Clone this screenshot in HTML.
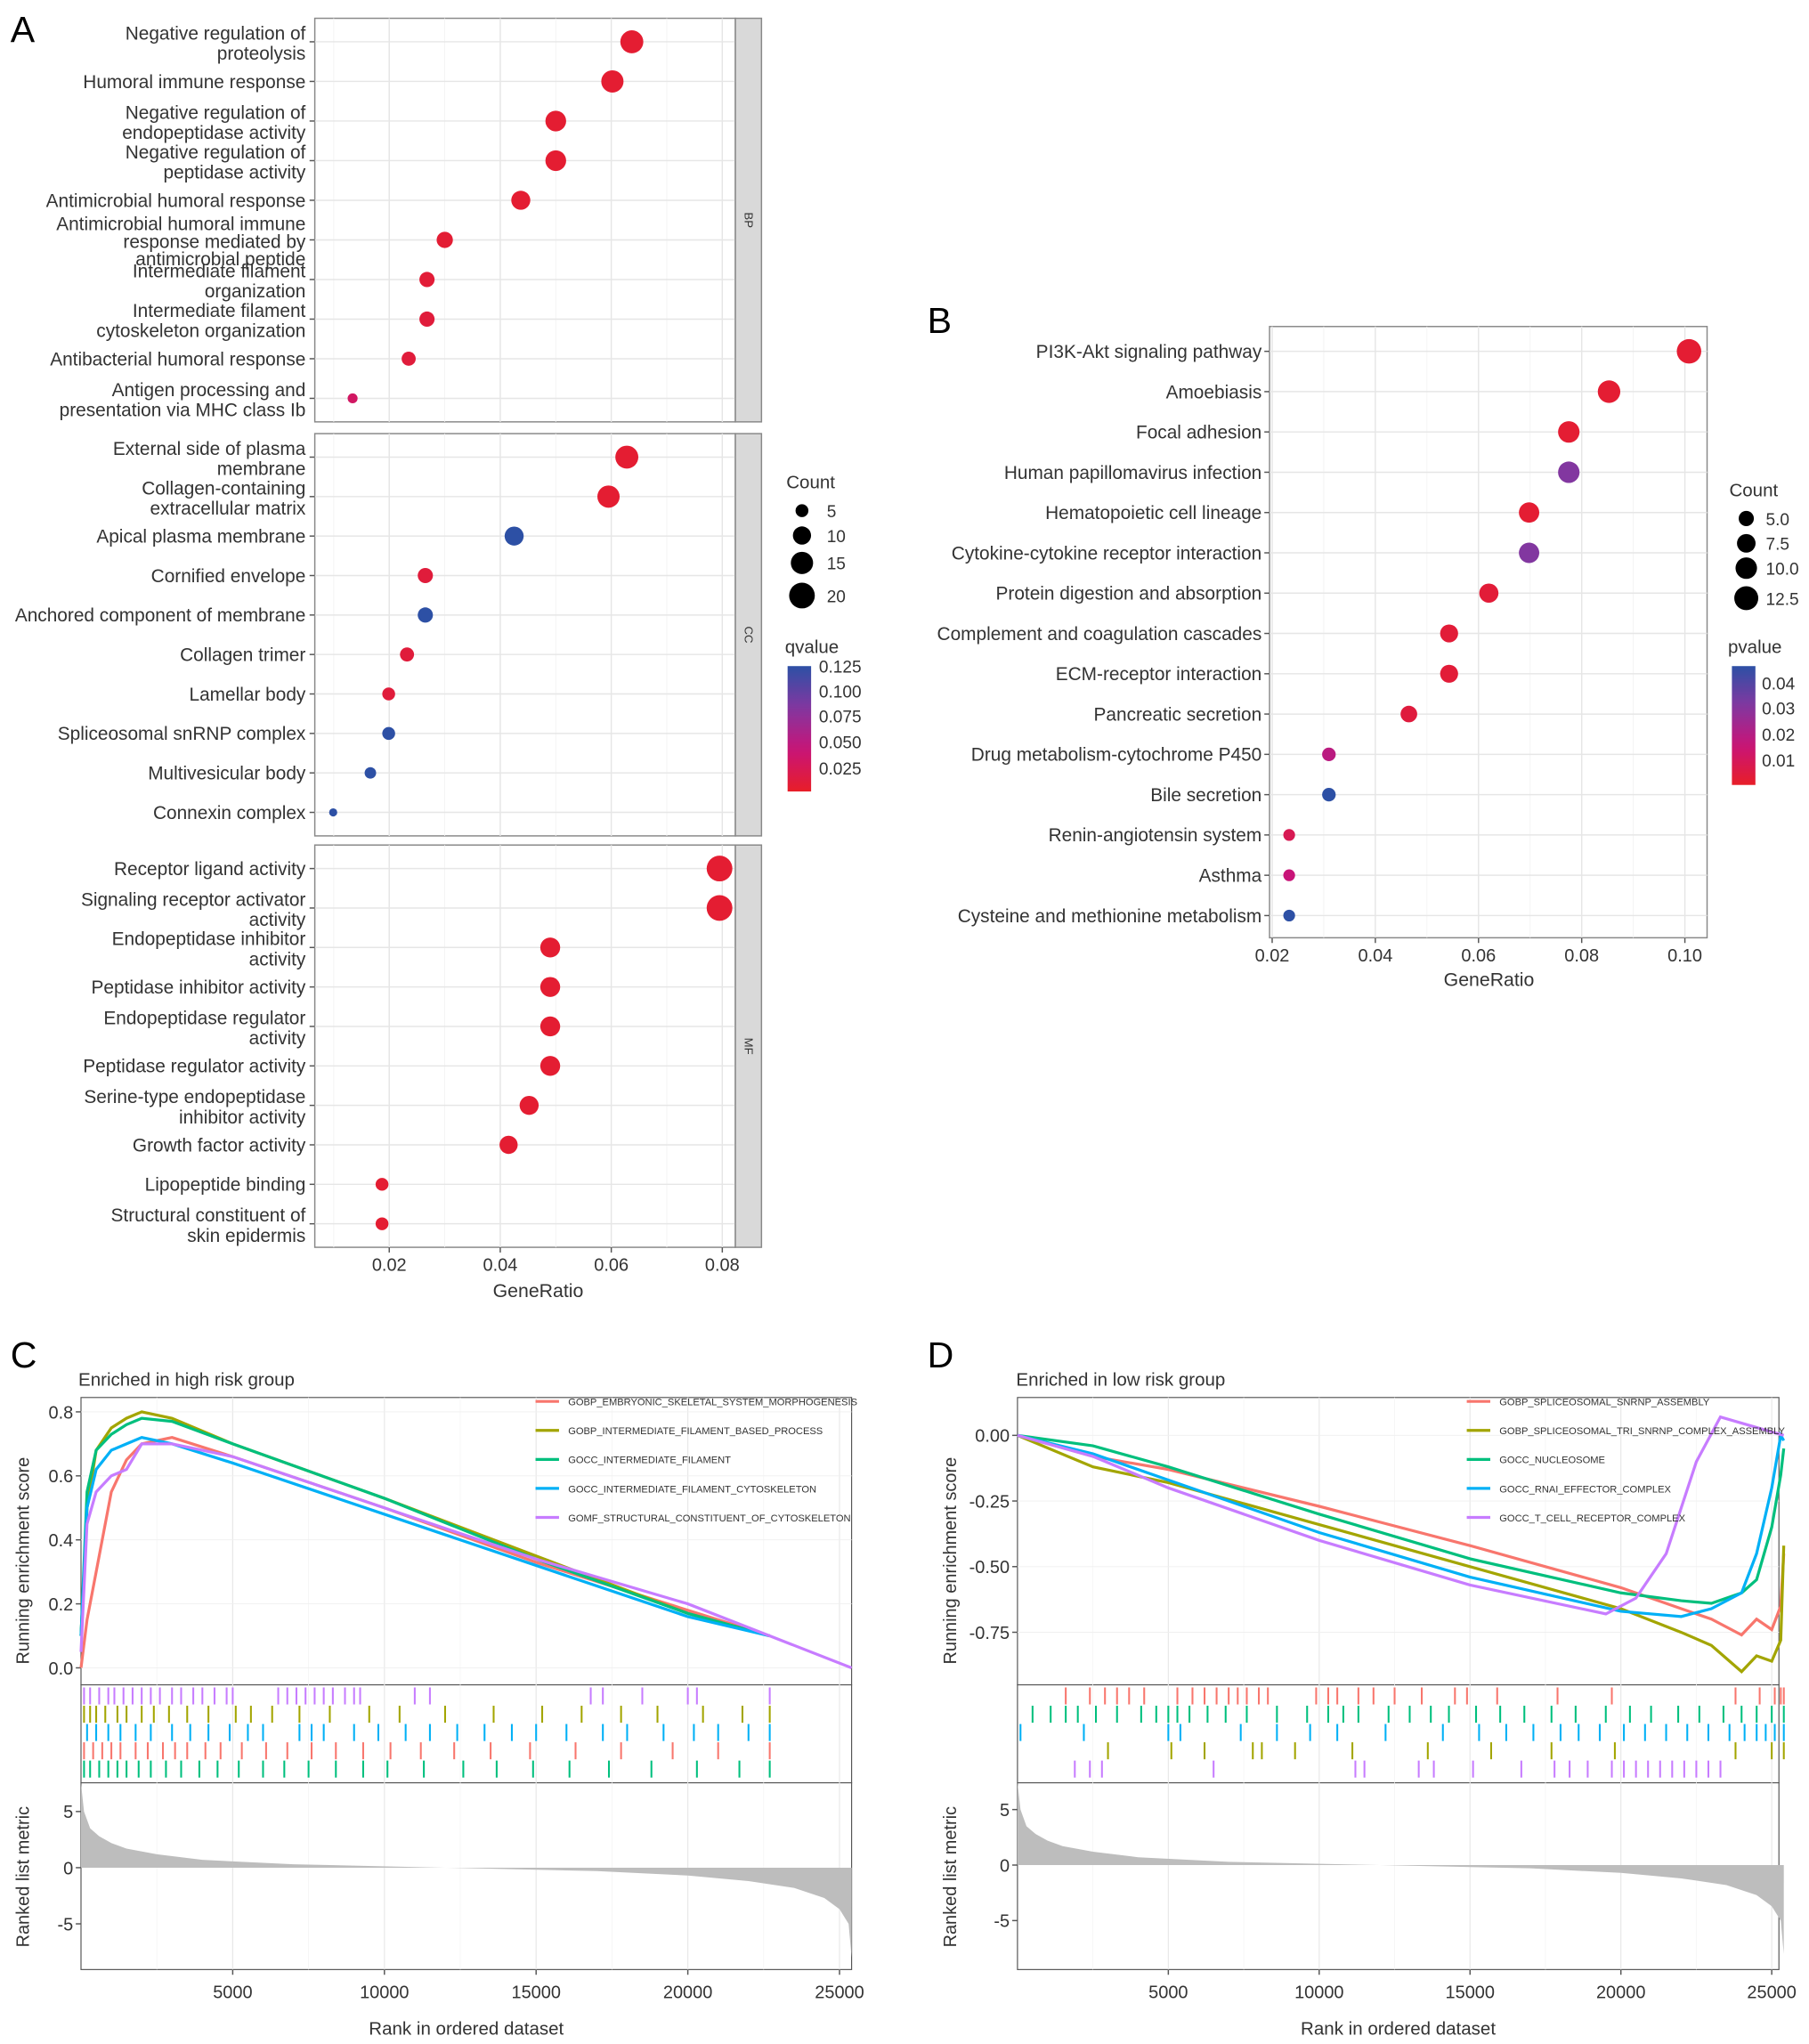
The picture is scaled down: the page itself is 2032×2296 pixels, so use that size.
<!DOCTYPE html>
<html><head><meta charset="utf-8"><style>
html,body{margin:0;padding:0;background:#fff}
svg{display:block}
text{font-family:"Liberation Sans",Arial,sans-serif;fill:#333}
</style></head><body>
<svg id="fig" width="2032" height="2296" viewBox="0 0 1385 1565" xmlns="http://www.w3.org/2000/svg"></svg>
<script>
// ---------- Panel A data ----------
const aBPLabels=[["Negative regulation of","proteolysis"],["Humoral immune response"],["Negative regulation of","endopeptidase activity"],["Negative regulation of","peptidase activity"],["Antimicrobial humoral response"],["Antimicrobial humoral immune","response mediated by","antimicrobial peptide"],["Intermediate filament","organization"],["Intermediate filament","cytoskeleton organization"],["Antibacterial humoral response"],["Antigen processing and","presentation via MHC class Ib"]];
const aBPRatio=[0.0637,0.0602,0.050,0.050,0.0437,0.030,0.0268,0.0268,0.0235,0.0134];
const aBPCount=[16,15,13,13,11,8,7,7,6,3];
const aBPQ=[0.005,0.005,0.005,0.005,0.005,0.006,0.008,0.01,0.01,0.03];
const aCCLabels=[["External side of plasma","membrane"],["Collagen-containing","extracellular matrix"],["Apical plasma membrane"],["Cornified envelope"],["Anchored component of membrane"],["Collagen trimer"],["Lamellar body"],["Spliceosomal snRNP complex"],["Multivesicular body"],["Connexin complex"]];
const aCCRatio=[0.0628,0.0595,0.0425,0.0265,0.0265,0.0232,0.0199,0.0199,0.0166,0.0099];
const aCCCount=[16,15,11,7,7,6,5,5,4,2];
const aCCQ=[0.005,0.005,0.125,0.01,0.125,0.01,0.01,0.125,0.125,0.125];
const aMFLabels=[["Receptor ligand activity"],["Signaling receptor activator","activity"],["Endopeptidase inhibitor","activity"],["Peptidase inhibitor activity"],["Endopeptidase regulator","activity"],["Peptidase regulator activity"],["Serine-type endopeptidase","inhibitor activity"],["Growth factor activity"],["Lipopeptide binding"],["Structural constituent of","skin epidermis"]];
const aMFRatio=[0.0795,0.0795,0.049,0.049,0.049,0.049,0.0452,0.0415,0.0187,0.0187];
const aMFCount=[20,20,12,12,12,12,11,10,5,5];
const aMFQ=[0.005,0.005,0.005,0.005,0.005,0.005,0.005,0.005,0.005,0.005];
const aTicks=[0.02,0.04,0.06,0.08];
// ---------- Panel B data ----------
const bLabels=["PI3K-Akt signaling pathway","Amoebiasis","Focal adhesion","Human papillomavirus infection","Hematopoietic cell lineage","Cytokine-cytokine receptor interaction","Protein digestion and absorption","Complement and coagulation cascades","ECM-receptor interaction","Pancreatic secretion","Drug metabolism-cytochrome P450","Bile secretion","Renin-angiotensin system","Asthma","Cysteine and methionine metabolism"];
const bRatio=[0.1008,0.0853,0.0775,0.0775,0.0698,0.0698,0.062,0.0543,0.0543,0.0465,0.031,0.031,0.0233,0.0233,0.0233];
const bCount=[13,11,10,10,9,9,8,7,7,6,4,4,3,3,3];
const bP=[0.002,0.002,0.002,0.03,0.002,0.03,0.003,0.003,0.003,0.004,0.018,0.045,0.008,0.015,0.045];
const bTicks=[0.02,0.04,0.06,0.08,0.10];
// ---------- Panel C data ----------
const cNames=["GOBP_EMBRYONIC_SKELETAL_SYSTEM_MORPHOGENESIS","GOBP_INTERMEDIATE_FILAMENT_BASED_PROCESS","GOCC_INTERMEDIATE_FILAMENT","GOCC_INTERMEDIATE_FILAMENT_CYTOSKELETON","GOMF_STRUCTURAL_CONSTITUENT_OF_CYTOSKELETON"];
const cRanksA=[0,200,500,1000,1500,2000,3000,5000,10000,15000,20000,22700];
const cRedScore=[0,0.15,0.3,0.55,0.65,0.7,0.72,0.66,0.5,0.33,0.18,0.1];
const cOliveScore=[0.1,0.5,0.68,0.75,0.78,0.8,0.78,0.7,0.53,0.35,0.17,0.1];
const cGreenScore=[0.1,0.55,0.68,0.73,0.76,0.78,0.77,0.7,0.53,0.34,0.17,0.1];
const cBlueScore=[0.1,0.5,0.62,0.68,0.7,0.72,0.7,0.64,0.48,0.32,0.16,0.1];
const cRanksP=[0,200,500,1000,1500,2000,3000,5000,10000,15000,20000,25400];
const cPurpleScore=[0.05,0.45,0.55,0.6,0.62,0.7,0.7,0.66,0.5,0.34,0.2,0];
const cHitsPurple=[100,300,600,900,1100,1400,1700,2000,2300,2600,3000,3300,3700,4000,4400,4800,5000,6500,6800,7100,7400,7700,8000,8300,8700,9000,9200,11000,11500,16800,17200,18500,20000,20300,22700];
const cHitsOlive=[100,300,500,800,1200,1500,2000,2400,2900,3500,4200,5100,5600,6300,7200,8200,9500,10500,12000,13600,15200,16500,17800,19000,20500,21800,22700];
const cHitsBlue=[200,500,900,1300,1800,2300,3000,3600,4200,4900,5500,6000,7200,7600,8000,9000,9800,10700,11500,12400,13300,14200,15000,16000,17200,18000,19200,20200,21000,22000,22700];
const cHitsRed=[100,400,700,1000,1300,1800,2200,2700,3100,3500,4100,4600,5300,6100,6800,7600,8400,9300,10200,11200,12300,13500,14800,16300,17800,19500,21000,22700];
const cHitsGreen=[100,300,600,900,1200,1500,1900,2300,2800,3300,3900,4500,5200,6000,6700,7500,8400,9300,10100,11300,12600,13700,14900,16100,17400,18800,20300,21700,22700];
// ---------- Panel D data ----------
const dNames=["GOBP_SPLICEOSOMAL_SNRNP_ASSEMBLY","GOBP_SPLICEOSOMAL_TRI_SNRNP_COMPLEX_ASSEMBLY","GOCC_NUCLEOSOME","GOCC_RNAI_EFFECTOR_COMPLEX","GOCC_T_CELL_RECEPTOR_COMPLEX"];
const dRanks=[0,2500,5000,10000,15000,20000,22000,23000,24000,24500,25000,25300,25400];
const dRedScore=[0,-0.08,-0.13,-0.27,-0.42,-0.58,-0.66,-0.7,-0.76,-0.7,-0.74,-0.65,-0.45];
const dOliveScore=[0,-0.12,-0.18,-0.34,-0.5,-0.66,-0.75,-0.8,-0.9,-0.84,-0.86,-0.78,-0.42];
const dGreenScore=[0,-0.04,-0.12,-0.3,-0.47,-0.6,-0.63,-0.64,-0.6,-0.55,-0.35,-0.15,-0.05];
const dBlueScore=[0,-0.07,-0.17,-0.37,-0.54,-0.67,-0.69,-0.66,-0.6,-0.45,-0.2,0,-0.02];
const dRanksP=[0,2500,5000,10000,15000,19500,20500,21500,22500,23300,25400];
const dPurpleScore=[0,-0.08,-0.2,-0.4,-0.57,-0.68,-0.62,-0.45,-0.1,0.07,0];
const dHitsRed=[1600,2400,2900,3300,3700,4200,5300,5800,6200,6600,7000,7300,7600,8000,8300,9900,10300,10600,11300,11800,12500,13400,14500,14900,15900,17900,19700,23800,24600,25100,25300,25400];
const dHitsGreen=[500,1100,1600,2000,2600,3300,4100,4600,5000,5300,5700,6300,6900,7600,8600,9600,10300,10800,11300,12300,13000,13700,14300,15200,16000,16800,17700,18500,19500,20300,21000,21900,22600,23400,24000,24500,25000,25400];
const dHitsBlue=[100,2200,5000,5400,7400,8600,9700,10600,12200,14100,15300,16200,17100,18000,18600,19300,20100,20800,21500,22200,22900,23600,24100,24500,24800,25100,25400];
const dHitsOlive=[3000,5100,6200,7800,8100,9200,11100,13600,15700,17700,19800,23800,25000,25400];
const dHitsPurple=[1900,2400,2800,6500,11200,11500,13300,13800,15100,16700,17800,18300,18900,19700,20100,20500,20900,21300,21700,22100,22500,22900,23300];
// ranked list metric (shared shape)
const metRanks=[0,100,300,600,1000,1500,2500,4000,7000,12000,17000,20000,22000,23500,24500,25000,25300,25400];
const metValues=[7.5,5,3.5,2.8,2.2,1.7,1.2,0.7,0.3,0,-0.3,-0.7,-1.2,-1.8,-2.7,-3.7,-5,-8];
const gsColors=["#f8766d","#a3a500","#00bf7d","#00b0f6","#c77cff"];

const NS="http://www.w3.org/2000/svg";
const svg=document.getElementById('fig');
function el(tag,attrs,parent){const e=document.createElementNS(NS,tag);for(const k in attrs)e.setAttribute(k,attrs[k]);(parent||svg).appendChild(e);return e;}
function txt(x,y,s,size,anchor,parent){const t=el('text',{x:x,y:y,'font-size':size,'text-anchor':anchor||'start'},parent);t.textContent=s;return t;}
function lerp(a,b,t){return a+(b-a)*t;}
function colorScale(v,max){let t=Math.max(0,Math.min(1,v/max));
 const stops=[[232,30,40],[200,20,120],[130,55,160],[45,80,165]];
 const p=t*3,i=Math.min(2,Math.floor(p)),f=p-i;const a=stops[i],b=stops[i+1];
 return `rgb(${Math.round(lerp(a[0],b[0],f))},${Math.round(lerp(a[1],b[1],f))},${Math.round(lerp(a[2],b[2],f))})`;}

[["A",8,32],["B",710,255],["C",8,1047],["D",710,1047]].forEach(p=>{const t=txt(p[1],p[2],p[0],28);t.setAttribute('style','fill:#000');});

// ---------- Panel A ----------
const ax=v=>298+(v-0.02)*4250;
const aG=el('g',{});

const facets=[["BP",14,323,aBPLabels,aBPRatio,aBPCount,aBPQ],["CC",332,640,aCCLabels,aCCRatio,aCCCount,aCCQ],["MF",647,955,aMFLabels,aMFRatio,aMFCount,aMFQ]];
facets.forEach(f=>{
 const [nm,y0,y1,labels,ratio,count,q]=f;
 const g=el('g',{},aG);
 
 el('rect',{x:241,y:y0,width:322,height:y1-y0,fill:'#fff',stroke:'#888','stroke-width':1},g);
 [0.01,0.03,0.05,0.07].forEach(v=>el('line',{x1:ax(v),x2:ax(v),y1:y0,y2:y1,stroke:'#f2f2f2','stroke-width':0.6},g));
 aTicks.forEach(v=>el('line',{x1:ax(v),x2:ax(v),y1:y0,y2:y1,stroke:'#e6e6e6','stroke-width':1},g));
 labels.forEach((lab,i)=>{
  const yy=y0+18+i*(y1-y0-36)/(labels.length-1);
  el('line',{x1:241,x2:563,y1:yy,y2:yy,stroke:'#e6e6e6','stroke-width':1},g);
  el('line',{x1:237,x2:241,y1:yy,y2:yy,stroke:'#555','stroke-width':1},g);
  const n=lab.length, lh=(n>2?13.5:15.5);
  lab.forEach((s,j)=>{const t=txt(234,yy+5+(j-(n-1)/2)*lh+(n>1?1:0),s,14.2,'end',g);});
  const c=el('circle',{cx:ax(ratio[i]),cy:yy,r:2.2*Math.sqrt(count[i]),fill:colorScale(q[i],0.125)},g);
  
 });
 el('rect',{x:563,y:y0,width:20,height:y1-y0,fill:'#d9d9d9',stroke:'#888','stroke-width':1},g);
 const st=txt(0,0,nm,9,'middle',g);st.setAttribute('transform',`translate(570,${(y0+y1)/2}) rotate(90)`);
 
});
aTicks.forEach(v=>{el('line',{x1:ax(v),x2:ax(v),y1:955,y2:959,stroke:'#555'},aG);const t=txt(ax(v),973,v.toFixed(2),13.6,'middle',aG);});
{const t=txt(412,993,"GeneRatio",14.5,'middle',aG);}
{const lg=el('g',{},aG);
 txt(602,374,"Count",14,'start',lg);
 [[5,391],[10,410],[15,431],[20,456]].forEach(p=>{el('circle',{cx:614,cy:p[1],r:2.2*Math.sqrt(p[0]),fill:'#000'},lg);txt(633,p[1]+5,String(p[0]),13,'start',lg);});
 txt(601,500,"qvalue",14,'start',lg);
 const gr=el('linearGradient',{id:'gq',x1:0,y1:1,x2:0,y2:0},lg);
 for(let i=0;i<=10;i++)el('stop',{offset:i/10,'stop-color':colorScale(i/10*0.125,0.125)},gr);
 el('rect',{x:603,y:510,width:18,height:96,fill:'url(#gq)'},lg);
 [["0.125",510],["0.100",529],["0.075",548],["0.050",568],["0.025",588]].forEach(p=>txt(627,p[1]+5,p[0],13,'start',lg));
}

// ---------- Panel B ----------
const bx=v=>974+(v-0.02)*3950;
const bG=el('g',{});
el('rect',{x:972,y:250,width:335,height:468,fill:'#fff',stroke:'#888','stroke-width':1},bG);
[0.03,0.05,0.07,0.09].forEach(v=>el('line',{x1:bx(v),x2:bx(v),y1:250,y2:718,stroke:'#f2f2f2','stroke-width':0.6},bG));
bTicks.forEach(v=>el('line',{x1:bx(v),x2:bx(v),y1:250,y2:718,stroke:'#e6e6e6'},bG));
bLabels.forEach((s,i)=>{const y=269+i*(701-269)/14;
 el('line',{x1:972,x2:1307,y1:y,y2:y,stroke:'#e6e6e6'},bG);
 el('line',{x1:968,x2:972,y1:y,y2:y,stroke:'#555'},bG);
 const t=txt(966,y+5,s,14.2,'end',bG);
 const c=el('circle',{cx:bx(bRatio[i]),cy:y,r:2.6*Math.sqrt(bCount[i]),fill:colorScale(bP[i],0.045)},bG);
 });
bTicks.forEach(v=>{el('line',{x1:bx(v),x2:bx(v),y1:718,y2:722,stroke:'#555'},bG);const t=txt(bx(v),736,v.toFixed(2),13.6,'middle',bG);});
{const t=txt(1140,755,"GeneRatio",14.5,'middle',bG);}
{const lg=el('g',{},bG);
 txt(1324,380,"Count",14,'start',lg);
 [["5.0",5,397],["7.5",7.5,416],["10.0",10,435],["12.5",12.5,458]].forEach(p=>{el('circle',{cx:1337,cy:p[2],r:2.6*Math.sqrt(p[1]),fill:'#000'},lg);txt(1352,p[2]+5,p[0],13,'start',lg);});
 txt(1323,500,"pvalue",14,'start',lg);
 const gr=el('linearGradient',{id:'gp',x1:0,y1:1,x2:0,y2:0},lg);
 for(let i=0;i<=10;i++)el('stop',{offset:i/10,'stop-color':colorScale(i/10*0.045,0.045)},gr);
 el('rect',{x:1326,y:510,width:18,height:91,fill:'url(#gp)'},lg);
 [["0.04",523],["0.03",542],["0.02",562],["0.01",582]].forEach(p=>txt(1349,p[1]+5,p[0],13,'start',lg));
}

// ---------- GSEA panels ----------
function gsea(cfg){
 const g=el('g',{});
 const X=r=>cfg.x0+r*cfg.xs;
 const Y=s=>cfg.yZero-s*cfg.ys;
 const M=m=>cfg.mZero-m*cfg.ms;
 const L=cfg.left,R=cfg.right;
 el('rect',{x:L,y:1070,width:R-L,height:220,fill:'#fff',stroke:'#555','stroke-width':0.8},g);
 el('rect',{x:L,y:1290,width:R-L,height:75,fill:'#fff',stroke:'#555','stroke-width':0.8},g);
 el('rect',{x:L,y:1365,width:R-L,height:143,fill:'#fff',stroke:'#555','stroke-width':0.8},g);
 for(let r=2500;r<=25000;r+=2500){[[1070,1290],[1290,1365],[1365,1508]].forEach(b=>el('line',{x1:X(r),x2:X(r),y1:b[0],y2:b[1],stroke:r%5000?'#f4f4f4':'#e8e8e8','stroke-width':r%5000?0.5:0.8},g));}
 cfg.yTicks.forEach(t=>{el('line',{x1:L,x2:R,y1:Y(t[0]),y2:Y(t[0]),stroke:'#efefef','stroke-width':0.6},g);el('line',{x1:L-4,x2:L,y1:Y(t[0]),y2:Y(t[0]),stroke:'#555'},g);const tt=txt(L-6,Y(t[0])+5,t[1],13.6,'end',g);});
 cfg.series.forEach((s,i)=>{let d='';s.ranks.forEach((r,k)=>{d+=(k?'L':'M')+X(r).toFixed(1)+','+Y(s.score[k]).toFixed(1);});
  const p=el('path',{d:d,fill:'none',stroke:gsColors[i],'stroke-width':2.2},g);
  });
 cfg.hits.forEach((h,row)=>{const y0=1292+row*14;const ci=cfg.hitColor[row];
  h.forEach(r=>{const ln=el('line',{x1:X(r),x2:X(r),y1:y0,y2:y0+13,stroke:gsColors[ci],'stroke-width':1.4},g);
   });});
 let d='M'+X(metRanks[0])+','+M(0);metRanks.forEach((r,k)=>{d+='L'+X(r).toFixed(1)+','+M(metValues[k]).toFixed(1);});d+='L'+X(metRanks[metRanks.length-1])+','+M(0)+'Z';
 const ar=el('path',{d:d,fill:'#bdbdbd',stroke:'none'},g);
 [[5,"5"],[0,"0"],[-5,"-5"]].forEach(t=>{el('line',{x1:L-4,x2:L,y1:M(t[0]),y2:M(t[0]),stroke:'#555'},g);txt(L-6,M(t[0])+5,t[1],13.6,'end',g);});
 [5000,10000,15000,20000,25000].forEach(r=>{el('line',{x1:X(r),x2:X(r),y1:1508,y2:1512,stroke:'#555'},g);const t=txt(X(r),1530,String(r),13.6,'middle',g);});
 {const t=txt((L+R)/2,1558,"Rank in ordered dataset",14,'middle',g);}
 {const t=txt(0,0,"Running enrichment score",13.6,'middle',g);t.setAttribute('transform',`translate(${cfg.ytx},1195) rotate(-90)`);}
 {const t=txt(0,0,"Ranked list metric",13.6,'middle',g);t.setAttribute('transform',`translate(${cfg.ytx},1437) rotate(-90)`);}
 {const t=txt(cfg.titleX,1061,cfg.title,14,'start',g);}
 const lg=el('g',{},g);
 cfg.names.forEach((n,i)=>{const y=1073+i*22.2;el('line',{x1:cfg.legX,x2:cfg.legX+18,y1:y,y2:y,stroke:gsColors[i],'stroke-width':2.2},lg);const t=txt(cfg.legX+25,y+3,n,7.6,'start',lg);});
}
gsea({name:'panel-c-gsea',left:62,right:652,x0:62,xs:0.02323,yZero:1277,ys:245,mZero:1430,ms:8.6,
 yTicks:[[0,"0.0"],[0.2,"0.2"],[0.4,"0.4"],[0.6,"0.6"],[0.8,"0.8"]],
 series:[{ranks:cRanksA,score:cRedScore},{ranks:cRanksA,score:cOliveScore},{ranks:cRanksA,score:cGreenScore},{ranks:cRanksA,score:cBlueScore},{ranks:cRanksP,score:cPurpleScore}],
 hits:[cHitsPurple,cHitsOlive,cHitsBlue,cHitsRed,cHitsGreen],hitColor:[4,1,3,0,2],
 ytx:22,title:"Enriched in high risk group",titleX:60,legX:410,names:cNames});
gsea({name:'panel-d-gsea',left:779,right:1362,x0:779,xs:0.0231,yZero:1099,ys:201,mZero:1428,ms:8.5,
 yTicks:[[0,"0.00"],[-0.25,"-0.25"],[-0.5,"-0.50"],[-0.75,"-0.75"]],
 series:[{ranks:dRanks,score:dRedScore},{ranks:dRanks,score:dOliveScore},{ranks:dRanks,score:dGreenScore},{ranks:dRanks,score:dBlueScore},{ranks:dRanksP,score:dPurpleScore}],
 hits:[dHitsRed,dHitsGreen,dHitsBlue,dHitsOlive,dHitsPurple],hitColor:[0,2,3,1,4],
 ytx:732,title:"Enriched in low risk group",titleX:778,legX:1123,names:dNames});
</script>
</body></html>
